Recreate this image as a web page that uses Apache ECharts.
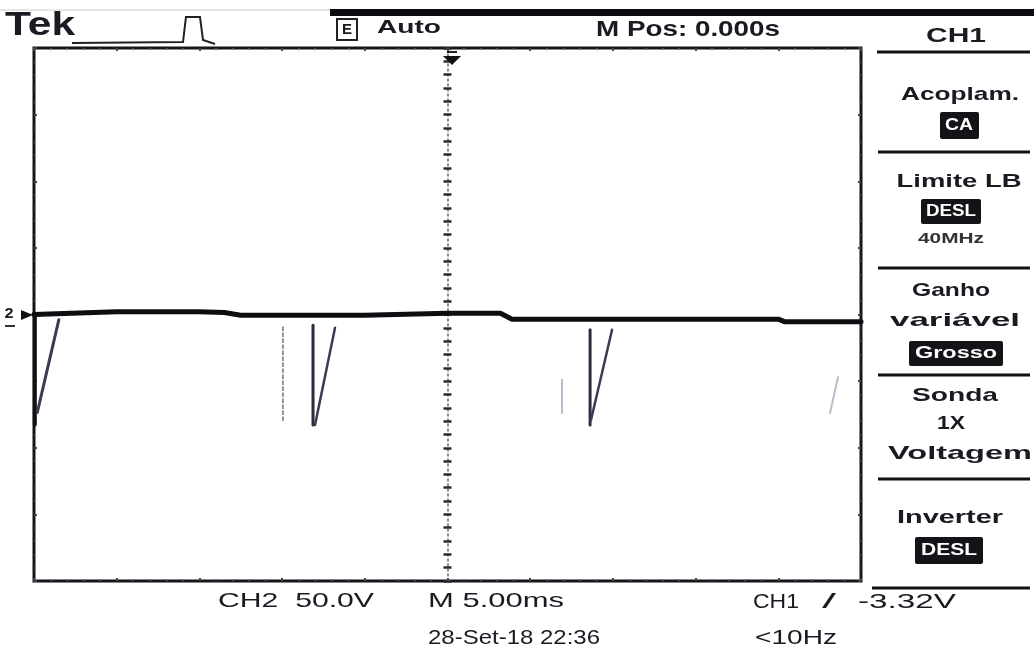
<!DOCTYPE html>
<html>
<head>
<meta charset="utf-8">
<script src="https://cdn.jsdelivr.net/npm/echarts@6/dist/echarts.min.js"></script>
<style>
html,body{margin:0;padding:0;background:#fff;}
#chart{width:1034px;height:652px;}
</style>
</head>
<body>
<div id="chart"></div>
<script>
// ---- Data (time in ms, amplitude in divisions) ----
const timeMin = -25, timeMax = 25, timeStep = 5;      // M 5.00ms/div, 10 divisions
const divMin = -4, divMax = 4, divStep = 1;           // 8 vertical divisions

// CH2 baseline trace
const traceTime = [-25, -20, -15, -13.5, -12.5, -5, 0, 3.2, 3.9, 12, 20, 20.4, 25];
const traceDiv  = [0.0, 0.04, 0.04, 0.03, -0.01, -0.01, 0.02, 0.02, -0.07, -0.07, -0.07, -0.11, -0.11];

// Negative spikes captured on the trace
const spikeEdgeTime = [-24.95, -24.95], spikeEdgeDiv = [0.0, -1.65];
const spikeATime = [-23.5, -24.8],  spikeADiv = [-0.08, -1.47];
const spikeB1Time = [-9.95, -9.95], spikeB1Div = [-0.19, -1.63];
const spikeB2Time = [-8.13, -8.13], spikeB2Div = [-0.16, -1.66];
const spikeB3Time = [-6.8, -8.01],  spikeB3Div = [-0.2, -1.66];
const spikeC1Time = [8.62, 8.62],   spikeC1Div = [-0.23, -1.66];
const spikeC2Time = [9.95, 8.68],   spikeC2Div = [-0.23, -1.58];
const ghost1Time = [6.92, 6.92],    ghost1Div = [-0.98, -1.48];
const ghost2Time = [23.61, 23.13],  ghost2Div = [-0.94, -1.48];

// Texts
const topLabels = ['Tek', 'Auto', 'M Pos: 0.000s', 'CH1'];
const menuLabels = ['Acoplam.', 'CA', 'Limite LB', 'DESL', '40MHz', 'Ganho', 'variável', 'Grosso', 'Sonda', '1X', 'Voltagem', 'Inverter', 'DESL'];
const bottomLabels = ['CH2  50.0V', 'M 5.00ms', 'CH1', '/', '-3.32V', '28-Set-18 22:36', '<10Hz'];

// ---- Helpers ----
const pair = (t, v) => t.map((x, i) => [x, v[i]]);
const mctx = document.createElement('canvas').getContext('2d');
const FAM = '"Liberation Sans", Arial, sans-serif';
function txt(str, cx, cy, size, width, opt) {
  opt = opt || {};
  const font = (opt.weight || 'bold') + ' ' + size + 'px ' + (opt.family || FAM);
  mctx.font = font;
  const w = mctx.measureText(str).width || 1;
  return {
    type: 'text', x: cx, y: cy, scaleX: width / w, z: 100,
    style: {
      text: str, font: font, fill: opt.fill || '#1a1a22',
      textAlign: 'center', textVerticalAlign: 'middle', align: 'center', verticalAlign: 'middle'
    }
  };
}
function box(x, y, w, h) {
  return { type: 'rect', z: 90, shape: { x: x, y: y, width: w, height: h, r: 2 }, style: { fill: '#141418' } };
}
function hline(x1, x2, y, lw, col) {
  return { type: 'line', z: 90, shape: { x1: x1, y1: y, x2: x2, y2: y }, style: { stroke: col || '#111', lineWidth: lw || 3 } };
}

const gridL = 34, gridR = 173, gridT = 48, gridB = 71;

const borderAxisX = (pos) => ({
  type: 'value', min: timeMin, max: timeMax, interval: timeStep, position: pos,
  axisLine: { show: false, onZero: false },
  axisTick: { show: true, inside: true, length: 3, lineStyle: { color: '#444', width: 2 } },
  minorTick: { show: true, splitNumber: 5, length: 2, lineStyle: { color: '#666', width: 1.5 } },
  axisLabel: { show: false }, splitLine: { show: false }
});
const borderAxisY = (pos) => ({
  type: 'value', min: divMin, max: divMax, interval: divStep, position: pos,
  axisLine: { show: false, onZero: false },
  axisTick: { show: true, inside: true, length: 3, lineStyle: { color: '#444', width: 2 } },
  minorTick: { show: true, splitNumber: 5, length: 2, lineStyle: { color: '#666', width: 1.5 } },
  axisLabel: { show: false }, splitLine: { show: false }
});
const centerAxisY = (pos, showLine) => ({
  type: 'value', min: divMin, max: divMax, interval: divStep, position: pos,
  axisLine: { show: showLine, onZero: true, onZeroAxisIndex: 0, lineStyle: { color: '#666', width: 1.5, type: [2, 3] } },
  axisTick: { show: true, length: 4, lineStyle: { color: '#2a2a30', width: 2.5 } },
  minorTick: { show: true, splitNumber: 5, length: 4, lineStyle: { color: '#2a2a30', width: 2.5 } },
  axisLabel: { show: false }, splitLine: { show: false }
});

function seg(t, v, color, width, type, z) {
  return {
    type: 'line', xAxisIndex: 0, yAxisIndex: 0, data: pair(t, v), showSymbol: false, symbol: 'none',
    silent: true, animation: false, z: z || 5,
    lineStyle: { color: color, width: width, type: type || 'solid', cap: 'round' }
  };
}

const graphic = [
  // top status bar
  hline(0, 330, 10, 1, '#ccc'),
  { type: 'rect', z: 90, shape: { x: 330, y: 9, width: 704, height: 7 }, style: { fill: '#0c0c12' } },
  txt(topLabels[0], 40, 26, 34, 70),
  { type: 'polyline', z: 90, shape: { points: [[72, 43], [183, 42], [186, 17], [200, 17], [203, 40], [215, 44]] }, style: { stroke: '#222', lineWidth: 2, fill: null } },
  { type: 'rect', z: 90, shape: { x: 337, y: 19, width: 20, height: 21 }, style: { fill: '#fff', stroke: '#222', lineWidth: 2 } },
  txt('E', 347, 30, 14, 10),
  txt(topLabels[1], 409, 28, 19, 64),
  txt(topLabels[2], 688, 30, 22, 184),
  txt(topLabels[3], 956, 36, 21, 60),
  // trigger position marker
  { type: 'polygon', z: 90, shape: { points: [[443, 56], [461, 56], [452, 65]] }, style: { fill: '#111' } },
  hline(447, 457, 52, 2, '#222'),
  // channel 2 ground marker
  txt('2', 9, 314, 15, 9),
  { type: 'polygon', z: 90, shape: { points: [[21, 310], [21, 320], [33, 315]] }, style: { fill: '#111' } },
  hline(5, 15, 326, 2, '#333'),
  // right menu
  hline(877, 1030, 52, 3),
  txt(menuLabels[0], 960, 95, 19, 118),
  box(940, 112, 39, 27), txt(menuLabels[1], 959, 126, 16, 28, { fill: '#fff' }),
  hline(878, 1030, 152, 3),
  txt(menuLabels[2], 959, 182, 19, 125),
  box(921, 199, 60, 25), txt(menuLabels[3], 951, 212, 16, 50, { fill: '#fff' }),
  txt(menuLabels[4], 951, 239, 15, 66, { fill: '#333' }),
  hline(878, 1030, 268, 3),
  txt(menuLabels[5], 951, 291, 19, 78),
  txt(menuLabels[6], 955, 321, 19, 130),
  box(909, 341, 94, 25), txt(menuLabels[7], 956, 354, 16, 82, { fill: '#fff' }),
  hline(878, 1030, 375, 3),
  txt(menuLabels[8], 955, 396, 19, 86),
  txt(menuLabels[9], 951, 424, 19, 28),
  txt(menuLabels[10], 960, 454, 19, 144),
  hline(878, 1030, 479, 3),
  txt(menuLabels[11], 950, 518, 19, 106),
  box(915, 537, 68, 27), txt(menuLabels[12], 949, 551, 16, 56, { fill: '#fff' }),
  // bottom readouts
  hline(872, 1030, 588, 3),
  txt(bottomLabels[0], 296, 601, 21, 156, { weight: 'normal' }),
  txt(bottomLabels[1], 496, 601, 21, 136, { weight: 'normal' }),
  txt(bottomLabels[2], 776, 602, 21, 46, { weight: 'normal' }),
  txt(bottomLabels[3], 829, 602, 21, 14, { weight: 'normal' }),
  txt(bottomLabels[4], 907, 602, 21, 98, { weight: 'normal' }),
  txt(bottomLabels[5], 514, 638, 21, 172, { weight: 'normal' }),
  txt(bottomLabels[6], 796, 638, 21, 82, { weight: 'normal' })
];

const option = {
  animation: false,
  backgroundColor: '#ffffff',
  grid: { left: gridL, right: gridR, top: gridT, bottom: gridB, show: true, borderColor: '#15151c', borderWidth: 3, backgroundColor: '#fff', containLabel: false },
  xAxis: [borderAxisX('bottom'), borderAxisX('top')],
  yAxis: [borderAxisY('left'), borderAxisY('right'), centerAxisY('left', true), centerAxisY('right', false)],
  graphic: graphic,
  series: [
    seg(ghost1Time, ghost1Div, '#b8bccb', 2),
    seg(ghost2Time, ghost2Div, '#b8bccb', 2),
    seg(spikeB1Time, spikeB1Div, '#8e92a3', 2, [3, 3]),
    seg(spikeEdgeTime, spikeEdgeDiv, '#111', 4),
    seg(spikeATime, spikeADiv, '#3a3d52', 3),
    seg(spikeB2Time, spikeB2Div, '#2b2d3c', 3),
    seg(spikeB3Time, spikeB3Div, '#3a3d52', 2.5),
    seg(spikeC1Time, spikeC1Div, '#2b2d3c', 3),
    seg(spikeC2Time, spikeC2Div, '#3a3d52', 2.5),
    seg(traceTime, traceDiv, '#0e0e12', 5, 'solid', 10)
  ]
};

const chart = echarts.init(document.getElementById('chart'), null, { renderer: 'canvas' });
chart.setOption(option);
</script>
</body>
</html>
